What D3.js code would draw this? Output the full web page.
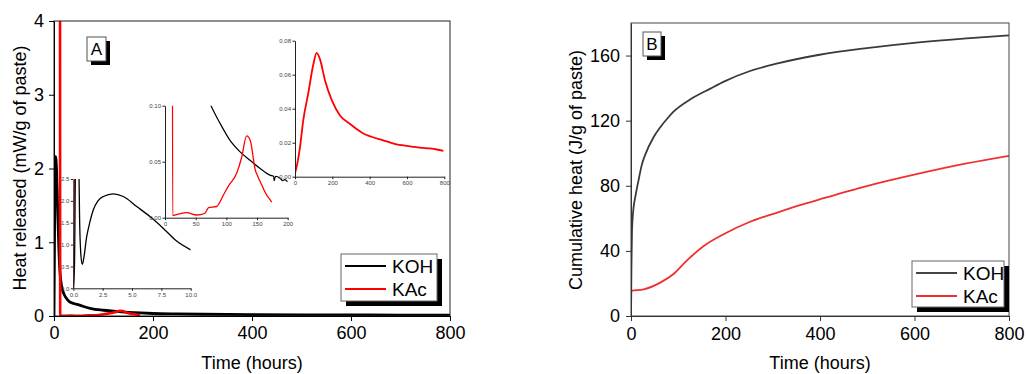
<!DOCTYPE html>
<html>
<head>
<meta charset="utf-8">
<script src="https://cdn.jsdelivr.net/npm/d3@7"></script>
<style>
  body { margin: 0; background: #fff; }
  svg { display: block; font-family: Arial, "Liberation Sans", sans-serif; }
</style>
</head>
<body>
<div id="chart"></div>
<script>
// ---- data ----
// panel A, main plot (hours, mW/g)
const kohMain = [[0,0],[1.5,1.5],[3.3,2.16],[5,2.0],[7,1.55],[10,0.88],[12,0.6],[15,0.42],[20,0.3],[25,0.24],[30,0.2],[40,0.17],[50,0.15],[75,0.1],[100,0.078],[125,0.062],[150,0.05],[175,0.041],[200,0.034],[250,0.028],[300,0.024],[400,0.019],[500,0.016],[600,0.014],[700,0.012],[800,0.011]];
const kacMain = [[0,6],[12,6],[12.5,0.003],[35,0.0045],[52,0.003],[70,0.009],[85,0.01],[103,0.028],[117,0.04],[125,0.054],[133,0.072],[139,0.068],[147,0.043],[158,0.029],[166,0.02],[174,0.014]];
// inset 1 (0-10 h)
const kohInset1 = [[0,0],[0.1,0.5],[0.2,3],[0.45,3],[0.55,1.4],[0.65,0.75],[0.77,0.55],[0.9,0.7],[1.14,1.18],[1.4,1.5],[1.7,1.79],[2.1,2.0],[2.56,2.1],[3.4,2.16],[4.26,2.1],[5.4,1.87],[6.53,1.64],[7.67,1.37],[8.8,1.08],[10,0.88]];
const kacInset1 = [[0,0],[0.15,3],[10,3]];
// inset 2 (0-200 h)
const kohInset2 = [[60,0.12],[75,0.1],[90,0.084],[106,0.069],[122,0.059],[139,0.051],[155,0.044],[171,0.038],[177,0.037],[178,0.033],[180,0.037],[188,0.035],[192,0.033],[195,0.034],[200,0.032]];
const kacInset2 = [[12,0.2],[12.5,0.002],[20,0.003],[35,0.0045],[52,0.0024],[65,0.004],[71,0.009],[84,0.01],[95,0.02],[103,0.028],[117,0.04],[125,0.054],[133,0.073],[139,0.069],[147,0.043],[152,0.036],[158,0.029],[162,0.024],[166,0.02],[170,0.017],[174,0.014]];
// inset 3 (0-800 h, KAc only)
const kacInset3 = [[0,0.002],[5,0.004],[27,0.0175],[44,0.033],[71,0.049],[98,0.066],[116,0.0728],[134,0.069],[161,0.0566],[197,0.045],[241,0.036],[295,0.031],[330,0.028],[366,0.0254],[410,0.0235],[455,0.0219],[500,0.0205],[545,0.019],[590,0.0183],[634,0.0175],[680,0.017],[723,0.0166],[760,0.016],[795,0.0152]];
// panel B, cumulative heat (hours, J/g)
const kohCum = [[0,0],[1,32],[2,50.7],[3,58],[5.6,67],[9,73],[16,83.5],[23,93],[30,99],[48,110],[62,116],[76,121],[90,125.5],[125,133],[168,139.7],[199,144.3],[252,150.5],[308,155],[399,160.5],[499,164.6],[604,168],[710,170.6],[800,172.4]];
const kacCum = [[0,0],[0.5,15.5],[27,16.4],[62,20.5],[90,25.8],[118,34],[154,43],[199,50.7],[252,57.9],[308,63.4],[365,68.7],[399,71.6],[499,79.8],[604,87.1],[710,93.7],[800,98.4]];

const seriesNames = ["KOH", "KAc"];

const svg = d3.select("#chart").append("svg")
  .attr("width", 1027)
  .attr("height", 374);

let clipId = 0;
function plotArea(x, y) {
  const id = "clip" + (clipId++);
  const [x0, x1] = x.range();
  const [y0, y1] = y.range();
  svg.append("clipPath").attr("id", id)
    .append("rect")
    .attr("x", x0).attr("y", y1)
    .attr("width", x1 - x0).attr("height", y0 - y1);
  return svg.append("g").attr("clip-path", `url(#${id})`);
}

function drawLine(g, data, x, y, color, width) {
  g.append("path")
    .datum(data)
    .attr("fill", "none")
    .attr("stroke", color)
    .attr("stroke-width", width)
    .attr("stroke-linejoin", "round")
    .attr("d", d3.line().curve(d3.curveMonotoneX).x(d => x(d[0])).y(d => y(d[1])));
}

function axes(x, y, opt) {
  const xt = svg.append("g").attr("transform", `translate(0,${y.range()[0]})`);
  xt.call(d3.axisBottom(x).tickValues(opt.xMinor).tickSize(opt.minor).tickFormat(""));
  xt.call(d3.axisBottom(x).tickValues(opt.xMajor).tickSize(opt.major).tickSizeOuter(0)
    .tickFormat(opt.xFmt).tickPadding(opt.pad));
  const yt = svg.append("g").attr("transform", `translate(${x.range()[0]},0)`);
  yt.call(d3.axisLeft(y).tickValues(opt.yMinor).tickSize(opt.minor).tickFormat(""));
  yt.call(d3.axisLeft(y).tickValues(opt.yMajor).tickSize(opt.major).tickSizeOuter(0)
    .tickFormat(opt.yFmt).tickPadding(opt.pad));
  [xt, yt].forEach(g => {
    g.selectAll("path.domain").attr("stroke", opt.color);
    g.selectAll("line").attr("stroke", opt.color);
    g.selectAll("text").attr("font-size", opt.font).attr("fill", opt.textColor)
      .attr("font-family", "Arial, 'Liberation Sans', sans-serif");
  });
}

function frame(x, y, color, width) {
  svg.append("rect")
    .attr("x", x.range()[0]).attr("y", y.range()[1])
    .attr("width", x.range()[1] - x.range()[0])
    .attr("height", y.range()[0] - y.range()[1])
    .attr("fill", "none").attr("stroke", color).attr("stroke-width", width);
}

function tagBox(x, y, w, h, label) {
  svg.append("rect").attr("x", x + 4).attr("y", y + 4).attr("width", w).attr("height", h).attr("fill", "#000");
  svg.append("rect").attr("x", x).attr("y", y).attr("width", w).attr("height", h)
    .attr("fill", "#fff").attr("stroke", "#555").attr("stroke-width", 1);
  svg.append("text").attr("x", x + w / 2).attr("y", y + h / 2 + 6)
    .attr("text-anchor", "middle").attr("font-size", 17).text(label);
}

function legend(x, y, w, h, colors, width) {
  svg.append("rect").attr("x", x + 5).attr("y", y + 5).attr("width", w).attr("height", h).attr("fill", "#000");
  svg.append("rect").attr("x", x).attr("y", y).attr("width", w).attr("height", h)
    .attr("fill", "#fff").attr("stroke", "#666").attr("stroke-width", 1);
  seriesNames.forEach((name, i) => {
    const ly = y + 12 + i * 23;
    svg.append("line").attr("x1", x + 4).attr("x2", x + 45).attr("y1", ly).attr("y2", ly)
      .attr("stroke", colors[i]).attr("stroke-width", width);
    svg.append("text").attr("x", x + 51).attr("y", ly + 7).attr("font-size", 19).text(name);
  });
}

function axisTitles(cx, titleX, cy, yTitle) {
  svg.append("text").attr("x", cx).attr("y", 369).attr("text-anchor", "middle")
    .attr("font-size", 18).text("Time (hours)");
  svg.append("text").attr("transform", `translate(${titleX},${cy}) rotate(-90)`)
    .attr("text-anchor", "middle").attr("font-size", 18).text(yTitle);
}

// ---------------- panel A ----------------
const xA = d3.scaleLinear().domain([0, 800]).range([54, 450]);
const yA = d3.scaleLinear().domain([0, 4]).range([316, 21]);

const gA = plotArea(xA, yA);
drawLine(gA, kohMain, xA, yA, "#000", 2.8);
drawLine(gA, kacMain, xA, yA, "#ff0000", 2.6);

// inset 1
const xI1 = d3.scaleLinear().domain([0, 10]).range([73.3, 190.7]);
const yI1 = d3.scaleLinear().domain([0, 2.5]).range([288.3, 179]);
const gI1 = plotArea(xI1, yI1);
drawLine(gI1, kacInset1, xI1, yI1, "#ff0000", 1.3);
drawLine(gI1, kohInset1, xI1, yI1, "#000", 1.3);
const insetOpt = { minor: 1.5, major: 2.5, pad: 1.5, font: 6, color: "#222", textColor: "#444" };
axes(xI1, yI1, Object.assign({}, insetOpt, {
  xMajor: [0, 2.5, 5, 7.5, 10], xMinor: [1.25, 3.75, 6.25, 8.75], xFmt: d3.format(".1f"),
  yMajor: [0, 0.5, 1, 1.5, 2, 2.5], yMinor: [0.25, 0.75, 1.25, 1.75, 2.25], yFmt: d3.format(".1f")
}));

// inset 2
const xI2 = d3.scaleLinear().domain([0, 200]).range([165, 287.7]);
const yI2 = d3.scaleLinear().domain([0, 0.1]).range([217.7, 105.7]);
const gI2 = plotArea(xI2, yI2);
drawLine(gI2, kohInset2, xI2, yI2, "#000", 1.2);
drawLine(gI2, kacInset2, xI2, yI2, "#ff0000", 1.3);
axes(xI2, yI2, Object.assign({}, insetOpt, {
  xMajor: [0, 50, 100, 150, 200], xMinor: [25, 75, 125, 175], xFmt: d3.format("d"),
  yMajor: [0, 0.05, 0.1], yMinor: [0.025, 0.075], yFmt: d3.format(".2f")
}));

// inset 3
const xI3 = d3.scaleLinear().domain([0, 800]).range([295, 444.3]);
const yI3 = d3.scaleLinear().domain([0, 0.08]).range([176.7, 40.7]);
const gI3 = plotArea(xI3, yI3);
drawLine(gI3, kacInset3, xI3, yI3, "#ff0000", 1.8);
axes(xI3, yI3, Object.assign({}, insetOpt, {
  xMajor: [0, 200, 400, 600, 800], xMinor: [100, 300, 500, 700], xFmt: d3.format("d"),
  yMajor: [0, 0.02, 0.04, 0.06, 0.08], yMinor: [0.01, 0.03, 0.05, 0.07], yFmt: d3.format(".2f")
}));

frame(xA, yA, "#222", 1);
axes(xA, yA, {
  minor: 3, major: 5, pad: 5, font: 18, color: "#000", textColor: "#000",
  xMajor: [0, 200, 400, 600, 800], xMinor: [100, 300, 500, 700], xFmt: d3.format("d"),
  yMajor: [0, 1, 2, 3, 4], yMinor: [0.5, 1.5, 2.5, 3.5], yFmt: d3.format("d")
});
axisTitles(252, 26, 168, "Heat released (mW/g of paste)");
tagBox(87, 37, 19, 24, "A");
legend(341, 254, 96, 47, ["#000", "#ff0000"], 2);

// ---------------- panel B ----------------
const xB = d3.scaleLinear().domain([0, 800]).range([631, 1009]);
const yB = d3.scaleLinear().domain([0, 180]).range([316, 23]);

const gB = plotArea(xB, yB);
drawLine(gB, kacCum, xB, yB, "#f03030", 1.8);
drawLine(gB, kohCum, xB, yB, "#3a3a3a", 1.8);

frame(xB, yB, "#444", 1);
axes(xB, yB, {
  minor: 3, major: 5, pad: 6, font: 18, color: "#333", textColor: "#000",
  xMajor: [0, 200, 400, 600, 800], xMinor: [100, 300, 500, 700], xFmt: d3.format("d"),
  yMajor: [0, 40, 80, 120, 160], yMinor: [20, 60, 100, 140], yFmt: d3.format("d")
});
axisTitles(820, 582, 170, "Cumulative heat (J/g of paste)");
tagBox(643, 32, 18, 24, "B");
legend(912, 261, 92, 46, ["#444", "#f03030"], 2);
</script>
</body>
</html>
